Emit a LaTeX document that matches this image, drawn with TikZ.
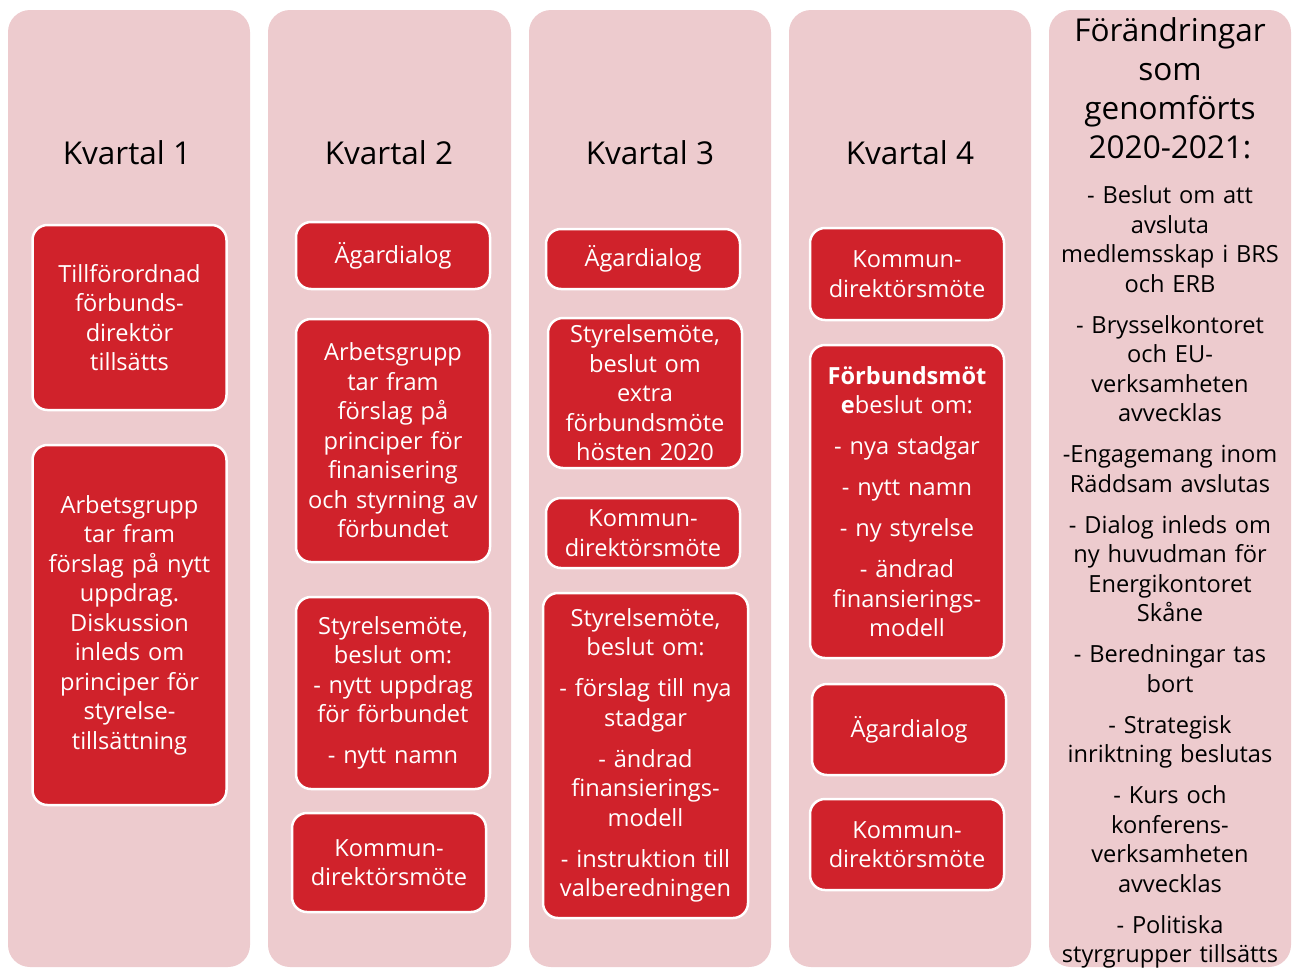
\documentclass[tikz,border=0pt]{standalone}
\usepackage{fontspec}
\setmainfont{Open Sans}
\definecolor{pinkbg}{RGB}{237,203,206}
\definecolor{boxred}{RGB}{208,34,43}
\newcommand{\gp}{\\[11.5pt]}
\begin{document}
\begin{tikzpicture}[x=1pt,y=-1pt,
  colbg/.style={fill=pinkbg,draw=none,rounded corners=22pt},
  hdr/.style={text=black,align=center,font=\fontsize{31.5}{39}\selectfont,inner sep=0pt},
  body/.style={text=black,align=center,font=\fontsize{23.6}{29.5}\selectfont,inner sep=0pt,text width=240pt},
  box/.style={fill=boxred,draw=white,line width=2.5pt,rounded corners=15pt,text=white,align=center,
    font=\fontsize{23.6}{29.5}\selectfont,inner sep=0pt,text width=190pt,minimum width=194pt}
]
\useasboundingbox (0,0) rectangle (1293,967);
% column backgrounds
\path[colbg] (8,10) rectangle (250,967);
\path[colbg] (268,10) rectangle (511,967);
\path[colbg] (529,10) rectangle (771,967);
\path[colbg] (789,10) rectangle (1031,967);
\path[colbg] (1049,10) rectangle (1291,967);
% headers
\node[hdr] (h1) at (127,153) {Kvartal 1};
\node[hdr] (h2) at (389,153) {Kvartal 2};
\node[hdr] (h3) at (650,153) {Kvartal 3};
\node[hdr] (h4) at (910,153) {Kvartal 4};
\node[hdr] (h5) at (1170,88) {Förändringar\\som\\genomförts\\2020-2021:};
\node[body] (c5) at (1170,577) {- Beslut om att\\avsluta\\medlemsskap i BRS\\och ERB\gp
- Brysselkontoret\\och EU-\\verksamheten\\avvecklas\gp
-Engagemang inom\\Räddsam avslutas\gp
- Dialog inleds om\\ny huvudman för\\Energikontoret\\Skåne\gp
- Beredningar tas\\bort\gp
- Strategisk\\inriktning beslutas\gp
- Kurs och\\konferens-\\verksamheten\\avvecklas\gp
- Politiska\\styrgrupper tillsätts};
% column 1
\node[box,minimum height=185pt] (b11) at (129.5,317.5) {Tillförordnad\\förbunds-\\direktör\\tillsätts};
\node[box,minimum height=360pt] (b12) at (129.5,625) {Arbetsgrupp\\tar fram\\förslag på nytt\\uppdrag.\\Diskussion\\inleds om\\principer för\\styrelse-\\tillsättning};
% column 2
\node[box,minimum height=67pt] (b21) at (393,255.5) {Ägardialog};
\node[box,minimum height=243pt] (b22) at (393,440.5) {Arbetsgrupp\\tar fram\\förslag på\\principer för\\finanisering\\och styrning av\\förbundet};
\node[box,minimum height=192pt] (b23) at (393,693) {Styrelsemöte,\\beslut om:\\- nytt uppdrag\\för förbundet\gp - nytt namn};
\node[box,minimum height=99pt] (b24) at (389,862.5) {Kommun-\\direktörsmöte};
% column 3
\node[box,minimum height=60pt] (b31) at (643,259) {Ägardialog};
\node[box,minimum height=150pt] (b32) at (645,393) {Styrelsemöte,\\beslut om\\extra\\förbundsmöte\\hösten 2020};
\node[box,minimum height=70pt] (b33) at (643,533) {Kommun-\\direktörsmöte};
\node[box,minimum height=325pt,minimum width=205pt,text width=200pt] (b34) at (645.5,755.5) {Styrelsemöte,\\beslut om:\gp - förslag till nya\\stadgar\gp - ändrad\\finansierings-\\modell\gp - instruktion till\\valberedningen};
% column 4
\node[box,minimum height=92pt] (b41) at (907,274) {Kommun-\\direktörsmöte};
\node[box,minimum height=313pt] (b42) at (907,501.5) {\textbf{Förbundsmöt}\\\textbf{e}beslut om:\gp - nya stadgar\gp - nytt namn\gp - ny styrelse\gp - ändrad\\finansierings-\\modell};
\node[box,minimum height=91pt] (b43) at (909,729.5) {Ägardialog};
\node[box,minimum height=91pt] (b44) at (907,844.5) {Kommun-\\direktörsmöte};
\end{tikzpicture}
\end{document}
